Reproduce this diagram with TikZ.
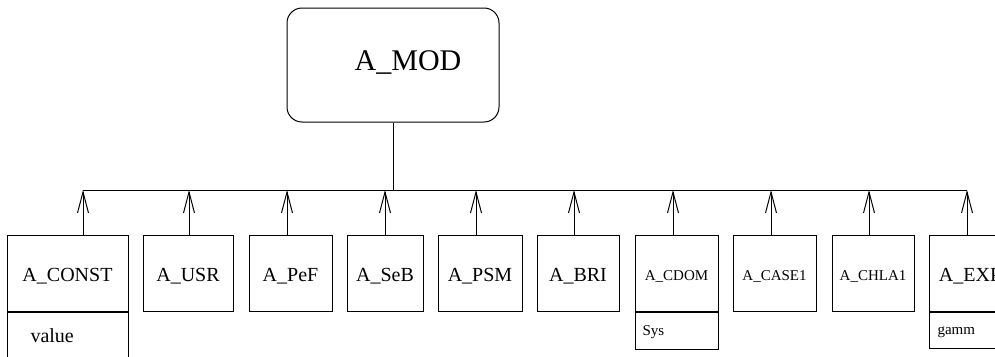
\documentclass[tikz,border=0pt]{standalone}
\usepackage{fontspec}
\setmainfont{Liberation Serif}
\usetikzlibrary{arrows.meta}
\begin{document}
\begin{tikzpicture}[x=1pt,y=-1pt,line width=1pt,
  modbox/.style={draw,rounded corners=15pt,minimum width=212pt,minimum height=114pt,inner sep=0pt},
  cls/.style={draw,inner sep=0pt,minimum height=76pt,text height=16pt,text depth=0pt,font=\fontsize{20}{24}\selectfont},
  clssmall/.style={cls,text height=14pt,font=\fontsize{15}{18}\selectfont},
  attr/.style={draw,inner sep=0pt},
  attrtext/.style={inner sep=0pt,anchor=base west},
  uparrow/.style={-{Straight Barb[length=21pt,width=11pt]}}]
\useasboundingbox (0,0) rectangle (995,356);
\clip (0,0) rectangle (995,356);

% parent module
\node[modbox] (mod) at (393,65) {};
\node[inner sep=0pt,anchor=base,font=\fontsize{30}{36}\selectfont] (modtxt) at (408,70) {A\_MOD};

% bus
\coordinate (busL) at (83,190);
\coordinate (busR) at (967,190);
\coordinate (busM) at (393,190);
\draw (busL) -- (busR);
\draw (mod.south) -- (busM);

% child modules
\node[cls,minimum width=121pt] (const) at (67.5,273) {A\_CONST};
\node[cls,minimum width=90pt]  (usr)   at (188,273) {A\_USR};
\node[cls,minimum width=83pt]  (pef)   at (290.5,273) {A\_PeF};
\node[cls,minimum width=76pt]  (seb)   at (385,273) {A\_SeB};
\node[cls,minimum width=84pt]  (psm)   at (480,273) {A\_PSM};
\node[cls,minimum width=82pt]  (bri)   at (578,273) {A\_BRI};
\node[clssmall,minimum width=83pt] (cdom)  at (676.5,273) {A\_CDOM};
\node[clssmall,minimum width=83pt] (case1) at (774.5,273) {A\_CASE1};
\node[clssmall,minimum width=82pt] (chla1) at (873,273) {A\_CHLA1};
\node[cls,minimum width=82pt]  (exp)   at (970,273) {A\_EXP};

% attribute compartments
\node[attr,anchor=north,minimum width=121pt,minimum height=52pt] (constA) at (const.south) {};
\node[attrtext,font=\fontsize{20}{24}\selectfont] (constV) at (30,342) {value};
\node[attr,anchor=north,minimum width=83pt,minimum height=37pt] (cdomA) at (cdom.south) {};
\node[attrtext,font=\fontsize{15}{18}\selectfont] (cdomV) at (642,335) {Sys};
\node[attr,anchor=north,minimum width=82pt,minimum height=36pt] (expA) at (exp.south) {};
\node[attrtext,font=\fontsize{15}{18}\selectfont] (expV) at (937,334) {gamm};

% bus taps
\foreach \n/\x in {const/83,usr/189,pef/287,seb/385,psm/476,bri/574,cdom/673,case1/771,chla1/869,exp/967}{
  \coordinate (t-\n) at (\x,190);
  \draw[uparrow] (t-\n |- \n.north) -- (t-\n);
}
\end{tikzpicture}
\end{document}
